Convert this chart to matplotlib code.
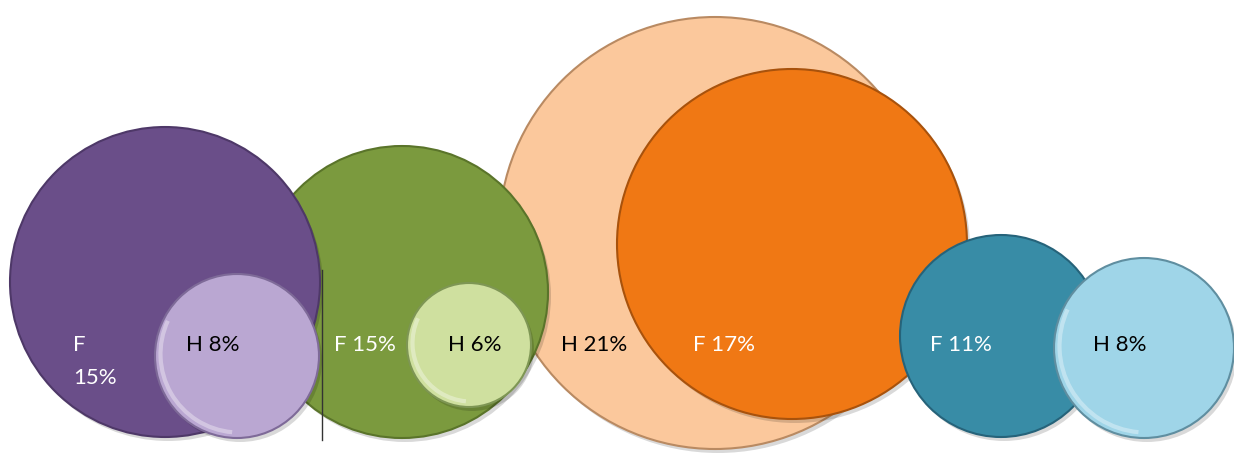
import matplotlib.pyplot as plt
from matplotlib.patches import Circle, Arc

# data: share per group, F and H
groups = ['G1', 'G2', 'G3', 'G4']
f_vals = [15, 15, 17, 11]
h_vals = [8, 6, 21, 8]

# layout (pixel space) and styles
f_centers = [(165, 282), (402, 292), (792, 244), (1001, 336)]
h_centers = [(237, 356), (469, 345), (715, 233), (1144, 348)]
f_radii = [155, 146, 175, 101]
h_radii = [82, 62, 216, 90]
f_colors = ['#6a4e89', '#7b9a3e', '#f07814', '#388ca6']
h_colors = ['#baa7d2', '#cfe09f', '#fbc89c', '#9fd5e8']
f_edges = ['#4e3868', '#5a742a', '#a8520c', '#26637a']
h_edges = ['#7e6a98', '#7e9654', '#b98a62', '#5f8ea0']
f_text = [(73, 345), (334, 345), (693, 345), (930, 345)]
h_text = [(186, 345), (448, 345), (561, 345), (1093, 345)]

fig = plt.figure(figsize=(12.34, 4.54), dpi=100)
ax = fig.add_axes([0, 0, 1, 1])
ax.set_xlim(0, 1234)
ax.set_ylim(454, 0)
ax.set_aspect('equal')
ax.axis('off')


def bubble(c, r, color, edge, z, light=False):
    # soft shadow, then the disc itself
    ax.add_patch(Circle((c[0] + 3, c[1] + 4), r, color='#000000', alpha=0.15, lw=0, zorder=z))
    ax.add_patch(Circle(c, r, facecolor=color, edgecolor=edge, lw=1.5, zorder=z + 0.1))
    if light:
        # faint glossy rim on the lower left
        ax.add_patch(Arc((c[0] + 2, c[1] - 2), 2 * r - 7, 2 * r - 7, theta1=95, theta2=205,
                         color='white', alpha=0.35, lw=3, zorder=z + 0.2))


# drawing order follows the overlaps in the picture
order = [(2, 'h'), (2, 'f'), (3, 'f'), (3, 'h'), (1, 'f'), (1, 'h'), (0, 'f'), (0, 'h')]
for z, (i, kind) in enumerate(order):
    if kind == 'f':
        bubble(f_centers[i], f_radii[i], f_colors[i], f_edges[i], z)
    else:
        bubble(h_centers[i], h_radii[i], h_colors[i], h_edges[i], z, light=(i != 2))

ax.plot([322, 322], [270, 440], color='#333333', lw=1, zorder=20)

font = 'Lato'
for i in range(len(groups)):
    fx, fy = f_text[i]
    hx, hy = h_text[i]
    if i == 0:
        ax.text(fx, fy, 'F', color='white', fontsize=16, family=font, va='center', zorder=30)
        ax.text(fx, fy + 33, '%d%%' % f_vals[i], color='white', fontsize=16, family=font, va='center', zorder=30)
    else:
        ax.text(fx, fy, 'F %d%%' % f_vals[i], color='white', fontsize=16, family=font, va='center', zorder=30)
    ax.text(hx, hy, 'H %d%%' % h_vals[i], color='black', fontsize=16, family=font, va='center', zorder=30)

fig.savefig('out.png', dpi=100)
